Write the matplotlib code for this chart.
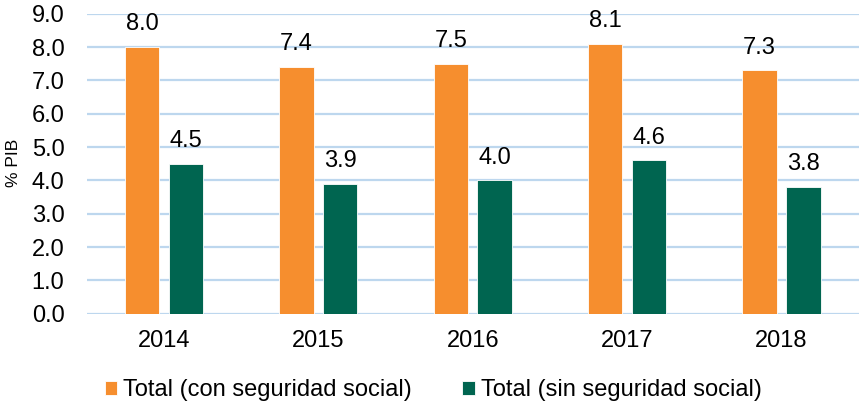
import matplotlib
matplotlib.use("Agg")
import matplotlib.pyplot as plt
import numpy as np

plt.rcParams['font.family'] = ['Liberation Sans', 'DejaVu Sans']

years = ["2014", "2015", "2016", "2017", "2018"]
con_ss = [8.0, 7.4, 7.5, 8.1, 7.3]
sin_ss = [4.5, 3.9, 4.0, 4.6, 3.8]
labels = ["Total (con seguridad social)", "Total (sin seguridad social)"]
colors = ["#F68E2E", "#006550"]

fig = plt.figure(figsize=(8.6, 4.04), dpi=100)
ax = fig.add_axes([86.7/860, 1 - 313.7/404, 772/860, 300/404])

x = np.arange(len(years))
w = 0.223
off = 0.142
b1 = ax.bar(x - off, con_ss, w, color=colors[0], edgecolor="white", linewidth=0.6, label=labels[0], zorder=3)
b2 = ax.bar(x + off, sin_ss, w, color=colors[1], edgecolor="white", linewidth=0.6, label=labels[1], zorder=3)

for bars, vals in ((b1, con_ss), (b2, sin_ss)):
    for r, v in zip(bars, vals):
        ax.annotate(f"{v:.1f}", (r.get_x() + r.get_width()/2, v), xytext=(0, 12),
                    textcoords="offset points", ha="center", va="baseline",
                    fontsize=17, color="#000000")

ax.set_xlim(-0.5, len(years) - 0.5)
ax.set_ylim(0, 9)
ax.set_yticks(np.arange(0, 9.01, 1.0))
ax.set_yticklabels([f"{t:.1f}" for t in np.arange(0, 9.01, 1.0)])
ax.set_xticks(x)
ax.set_xticklabels(years)
ax.tick_params(axis='both', length=0, labelsize=17, colors="#000000")
ax.tick_params(axis='x', pad=12)
ax.tick_params(axis='y', pad=16)
ax.yaxis.grid(True, color="#BDD7EE", linewidth=1.6, zorder=0)
ax.set_axisbelow(True)
for s in ax.spines.values():
    s.set_visible(False)

fig.text(13/860, 1 - 163/404, "% PIB", rotation=90, ha="center", va="center", fontsize=12.5)

fig.legend(handles=[b1, b2], labels=labels, loc="center", bbox_to_anchor=(433/860, 1 - 390/404),
           ncol=2, frameon=False, fontsize=17, handlelength=0.55, handleheight=0.55,
           handletextpad=0.25, columnspacing=2.1, borderpad=0, borderaxespad=0)

fig.savefig("out.png", dpi=100)
